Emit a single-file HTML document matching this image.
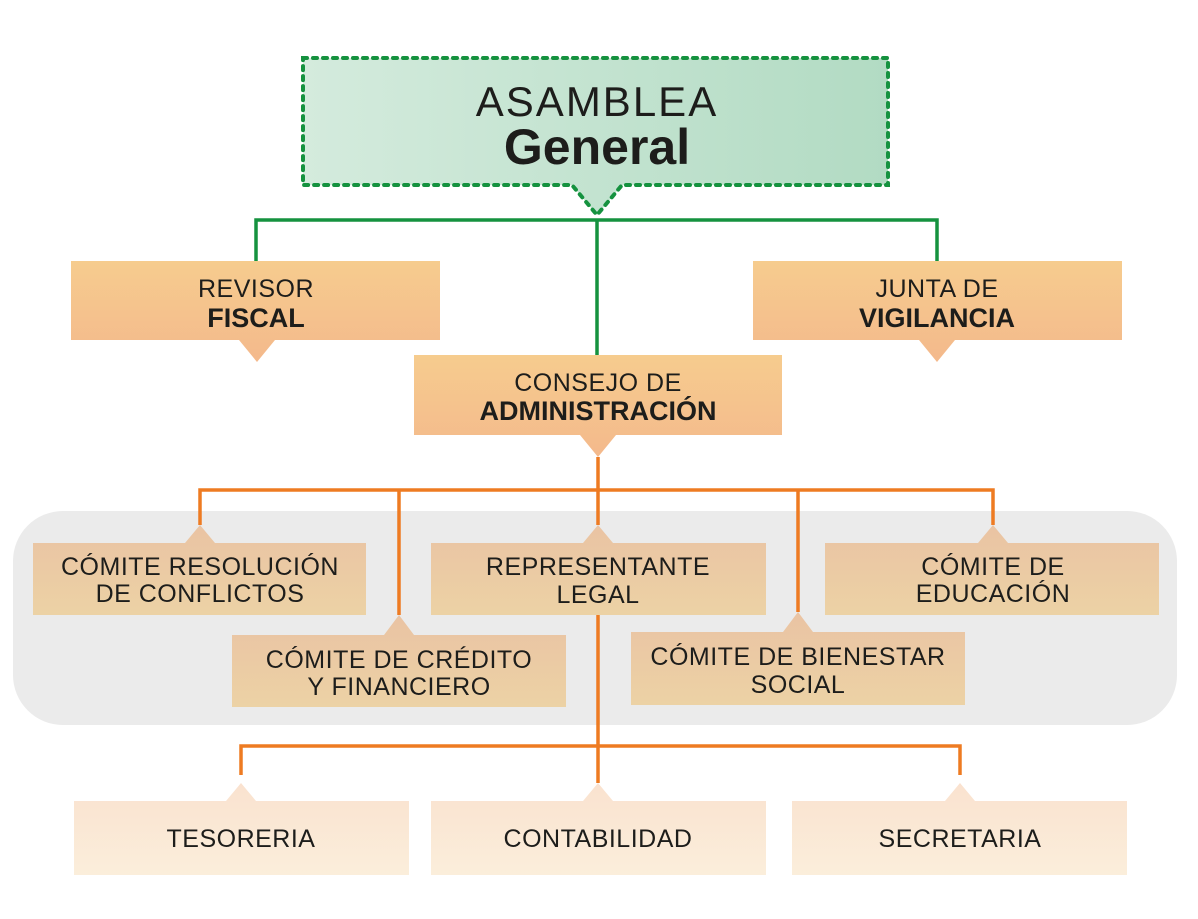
<!DOCTYPE html>
<html><head><meta charset="utf-8"><style>
html,body{margin:0;padding:0;background:#fff;}
svg{display:block;}
text{font-family:"Liberation Sans",sans-serif;fill:#1d1d1b;text-anchor:middle;}
.r{font-size:25px;letter-spacing:0.5px;}
.b{font-size:27px;font-weight:bold;}
</style></head><body>
<svg width="1198" height="919" viewBox="0 0 1198 919" xmlns="http://www.w3.org/2000/svg">
<defs>
<linearGradient id="g" x1="0" x2="1" y1="0" y2="0"><stop offset="0" stop-color="#d4ebdd"/><stop offset="1" stop-color="#b2dbc3"/></linearGradient>
<linearGradient id="o" x1="0" x2="0" y1="0" y2="1"><stop offset="0" stop-color="#f6cc8e"/><stop offset="1" stop-color="#f4b98c"/></linearGradient>
<linearGradient id="m" x1="0" x2="0" y1="0" y2="1"><stop offset="0" stop-color="#eac3a3"/><stop offset="1" stop-color="#ecd2a5"/></linearGradient>
<linearGradient id="p" x1="0" x2="0" y1="0" y2="1"><stop offset="0" stop-color="#fae2cf"/><stop offset="1" stop-color="#fbeedb"/></linearGradient>
</defs>
<rect x="13" y="511" width="1164" height="214" rx="50" fill="#ebebeb"/>
<path d="M303 58 H888 V185 H622 L597 215 L572 185 H303 Z" fill="url(#g)" stroke="#15923f" stroke-width="4" stroke-dasharray="4 6" stroke-linecap="round"/>
<text x="597" y="116" style="font-size:42px;letter-spacing:2px">ASAMBLEA</text>
<text x="597" y="164" style="font-size:50px;font-weight:bold">General</text>
<path d="M256 262 V220 H937 V262 M597 220 V355" fill="none" stroke="#15923f" stroke-width="3.5"/>
<path d="M71 261 H440 V340 H275 L257 362 L239 340 H71 Z" fill="url(#o)"/>
<text class="r" x="256" y="297">REVISOR</text><text class="b" x="256" y="327">FISCAL</text>
<path d="M753 261 H1122 V340 H955 L937 362 L919 340 H753 Z" fill="url(#o)"/>
<text class="r" x="937" y="297">JUNTA DE</text><text class="b" x="937" y="327">VIGILANCIA</text>
<path d="M414 355 H782 V435 H616 L598 457 L580 435 H414 Z" fill="url(#o)"/>
<text class="r" x="598" y="391">CONSEJO DE</text><text class="b" x="598" y="420">ADMINISTRACIÓN</text>
<g fill="none" stroke="#ee7b22" stroke-width="3.5">
<path d="M598 457 V490 M200 525 V490 H993 V525 M399 490 V615 M598 490 V525 M798 490 V612"/>
<path d="M598 615 V783 M241 775 V746 H960 V775"/>
</g>
<g fill="url(#m)">
<path d="M33 543 H185 L200 525 L215 543 H366 V615 H33 Z"/>
<path d="M431 543 H583 L598 525 L613 543 H766 V615 H431 Z"/>
<path d="M825 543 H978 L993 525 L1008 543 H1159 V615 H825 Z"/>
<path d="M232 635 H384 L399 615 L414 635 H566 V707 H232 Z"/>
<path d="M631 632 H783 L798 612 L813 632 H965 V705 H631 Z"/>
</g>
<text class="r" x="200" y="575">CÓMITE RESOLUCIÓN</text><text class="r" x="200" y="602">DE CONFLICTOS</text>
<text class="r" x="598" y="575">REPRESENTANTE</text><text class="r" x="598" y="603">LEGAL</text>
<text class="r" x="993" y="575">CÓMITE DE</text><text class="r" x="993" y="602">EDUCACIÓN</text>
<text class="r" x="399" y="668">CÓMITE DE CRÉDITO</text><text class="r" x="399" y="695">Y FINANCIERO</text>
<text class="r" x="798" y="665">CÓMITE DE BIENESTAR</text><text class="r" x="798" y="693">SOCIAL</text>
<g fill="url(#p)">
<path d="M74 801 H226 L241 783 L256 801 H409 V875 H74 Z"/>
<path d="M431 801 H583 L598 783 L613 801 H766 V875 H431 Z"/>
<path d="M792 801 H945 L960 783 L975 801 H1127 V875 H792 Z"/>
</g>
<text class="r" x="241" y="847">TESORERIA</text>
<text class="r" x="598" y="847">CONTABILIDAD</text>
<text class="r" x="960" y="847">SECRETARIA</text>
</svg>
</body></html>
